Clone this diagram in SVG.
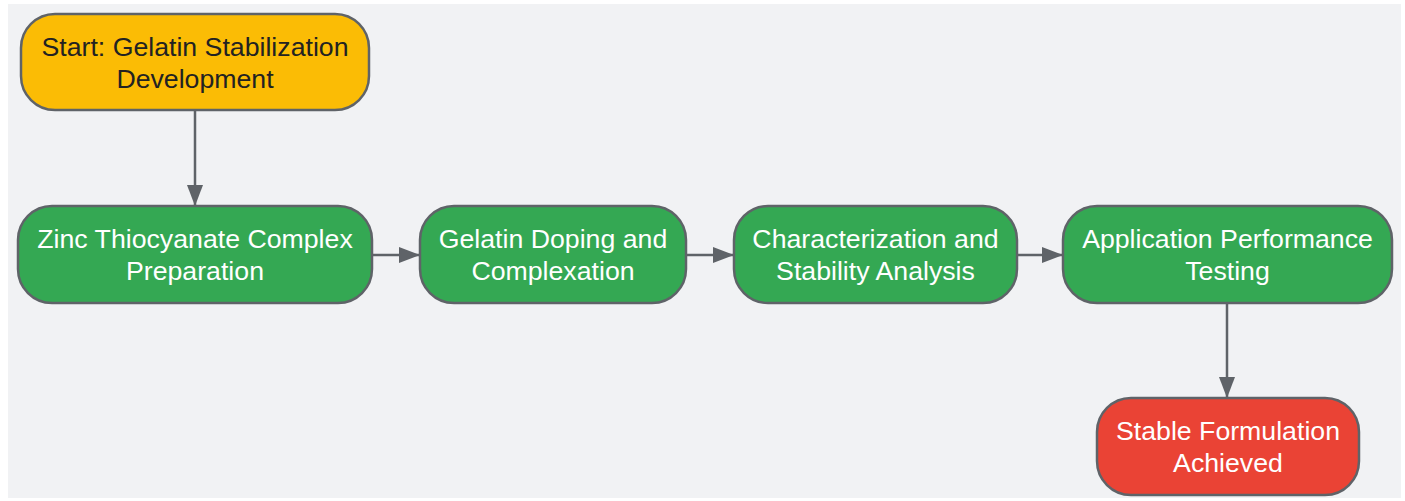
<svg xmlns="http://www.w3.org/2000/svg" width="1405" height="501" viewBox="0 0 1405 501">
<style>
.box{stroke:#5f6368;stroke-width:2.5}
.start{fill:#fbbc05}
.proc{fill:#34a853}
.end{fill:#ea4335}
.t{font-family:"Liberation Sans",Arial,sans-serif;font-size:26.7px;text-anchor:middle;fill:#ffffff}
.dark{fill:#222222}
.edge{stroke:#5f6368;stroke-width:2.5;fill:none;marker-end:url(#arr)}
</style>
<defs>
<marker id="arr" markerUnits="userSpaceOnUse" markerWidth="22" markerHeight="18" refX="21" refY="8" orient="auto">
<path d="M0,0 L21,8 L0,16 Z" fill="#5f6368"/>
</marker>
</defs>
<rect x="0" y="0" width="1405" height="501" fill="#ffffff"/>
<rect x="8" y="4" width="1393" height="494" fill="#f1f2f4"/>
<g id="connectors">
<path class="edge" d="M195,111 L195,206"/>
<path class="edge" d="M372,255 L420,255"/>
<path class="edge" d="M686,255 L734,255"/>
<path class="edge" d="M1017,255 L1063,255"/>
<path class="edge" d="M1227,303 L1227,398"/>
</g>
<g id="n_start">
<rect class="box start" x="21" y="14" width="348" height="96" rx="34"/>
<text class="t dark" x="195" y="56">Start: Gelatin Stabilization</text>
<text class="t dark" x="195" y="88">Development</text>
</g>
<g id="n_zinc">
<rect class="box proc" x="18" y="206" width="354" height="97" rx="34"/>
<text class="t" x="195" y="248">Zinc Thiocyanate Complex</text>
<text class="t" x="195" y="280">Preparation</text>
</g>
<g id="n_doping">
<rect class="box proc" x="420" y="206" width="266" height="97" rx="34"/>
<text class="t" x="553" y="248">Gelatin Doping and</text>
<text class="t" x="553" y="280">Complexation</text>
</g>
<g id="n_char">
<rect class="box proc" x="734" y="206" width="283" height="97" rx="34"/>
<text class="t" x="875.5" y="248">Characterization and</text>
<text class="t" x="875.5" y="280">Stability Analysis</text>
</g>
<g id="n_app">
<rect class="box proc" x="1063" y="206" width="329" height="97" rx="34"/>
<text class="t" x="1227.5" y="248">Application Performance</text>
<text class="t" x="1227.5" y="280">Testing</text>
</g>
<g id="n_end">
<rect class="box end" x="1097" y="398" width="262" height="97" rx="34"/>
<text class="t" x="1228" y="440">Stable Formulation</text>
<text class="t" x="1228" y="472">Achieved</text>
</g>
</svg>
